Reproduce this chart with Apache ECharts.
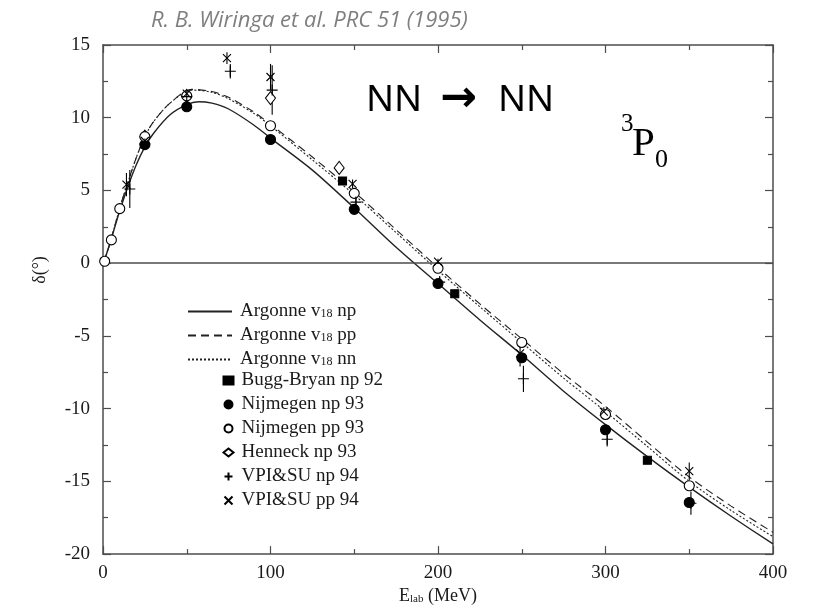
<!DOCTYPE html>
<html>
<head>
<meta charset="utf-8">
<script src="https://cdn.jsdelivr.net/npm/echarts@6/dist/echarts.min.js"></script>
<style>
  html, body { margin: 0; padding: 0; background: #fff; }
  #chart { width: 813px; height: 610px; }
</style>
</head>
<body>
<div id="chart"></div>
<script>
// Argonne v18 curves [E_lab, delta]
var argNp = [[0,0],[2,0.6],[5,1.7],[10,3.6],[15,5.3],[20,6.8],[25,8.0],[30,8.9],[40,10.2],[50,10.9],[57,11.1],[65,11.0],[75,10.6],[90,9.5],[100,8.6],[125,6.4],[150,3.8],[175,1.1],[200,-1.4],[225,-3.9],[250,-6.3],[275,-8.8],[300,-11.1],[325,-13.3],[350,-15.4],[375,-17.4],[400,-19.3]];
var argPp = [[0,0],[2,0.6],[5,1.7],[10,3.8],[15,5.6],[20,7.3],[25,8.7],[30,9.7],[40,11.0],[53,11.95],[65,11.8],[75,11.4],[90,10.4],[100,9.55],[125,7.3],[150,4.9],[175,2.3],[200,-0.3],[225,-2.8],[250,-5.2],[275,-7.6],[300,-9.85],[325,-12.3],[350,-14.7],[375,-16.7],[400,-18.5]];
var argNn = [[0,0],[2,0.6],[5,1.7],[10,3.8],[15,5.6],[20,7.3],[25,8.7],[30,9.7],[40,11.0],[53,11.9],[65,11.75],[75,11.3],[90,10.3],[100,9.45],[125,7.1],[150,4.7],[175,2.1],[200,-0.5],[225,-3.0],[250,-5.45],[275,-7.9],[300,-10.2],[325,-12.6],[350,-15.0],[375,-17.0],[400,-18.8]];

// phase shift analyses
var buggNp = [[143,5.65],[210,-2.1],[325,-13.55]];
var nijNp = [[25,8.15],[50,10.75],[100,8.5],[150,3.7],[200,-1.4],[250,-6.5],[300,-11.45],[350,-16.45]];
var nijPp = [[1,0.13],[5,1.6],[10,3.75],[25,8.7],[50,11.5],[100,9.45],[150,4.8],[200,-0.35],[250,-5.45],[300,-10.4],[350,-15.3]];
var henneckNp = [[25,8.7],[50,11.5],[100,11.35],[141,6.55]];
var vpiNp = [[16,5.1],[25,8.2],[50,11.45],[76,13.2],[101,11.9],[151,4.2],[201,-1.3],[251,-7.95],[301,-12.1],[351,-16.5]];
var vpiNpErr = [1.3,0.4,0.3,0.5,1.7,0.5,0.4,0.9,0.5,0.8];
var vpiPp = [[14,5.4],[25,8.4],[50,11.65],[74,14.1],[100,12.8],[149,5.45],[200,0.1],[249,-6.2],[299,-10.2],[350,-14.3]];
var vpiPpErr = [0.8,0.2,0.2,0.4,0.9,0.3,0.2,0.9,0.3,0.6];

var xTicks = [0, 400, 100];
var yTicks = [-20, 15, 5];

var serif = '"Liberation Serif", "DejaVu Serif", serif';
var ink = '#1a1a1a';
var axisCol = '#4d4d4d';

function errData(pts, errs) {
    return pts.map(function (p, i) { return [p[0], p[1] - errs[i], p[1] + errs[i]]; });
}
var errBars = errData(vpiNp, vpiNpErr).concat(errData(vpiPp, vpiPpErr));

var plusPath = 'path://M5,0L5,10M0,5L10,5';
var crossPath = 'path://M0,0L10,10M10,0L0,10';

var chart = echarts.init(document.getElementById('chart'));

function axisX(pos, labels) {
    return {
        type: 'value', position: pos, min: xTicks[0], max: xTicks[1], interval: xTicks[2],
        axisLine: { onZero: false, lineStyle: { color: axisCol, width: 1.5 } },
        axisTick: { inside: true, length: 8, lineStyle: { color: axisCol, width: 1.2 } },
        minorTick: { show: true, splitNumber: 2, length: 5, lineStyle: { color: axisCol, width: 1.2 } },
        splitLine: { show: false },
        axisLabel: { show: labels, margin: 9, fontFamily: serif, fontSize: 19, color: ink },
        name: labels ? 'E{s|lab} (MeV)' : '',
        nameLocation: 'middle', nameGap: 31,
        nameTextStyle: { fontFamily: serif, fontSize: 18, color: ink, lineHeight: 18,
            rich: { s: { fontFamily: serif, fontSize: 11, color: ink, lineHeight: 8, verticalAlign: 'bottom' } } }
    };
}
function axisY(pos, labels) {
    return {
        type: 'value', position: pos, min: yTicks[0], max: yTicks[1], interval: yTicks[2],
        axisLine: { onZero: false, lineStyle: { color: axisCol, width: 1.5 } },
        axisTick: { inside: true, length: 8, lineStyle: { color: axisCol, width: 1.2 } },
        minorTick: { show: true, splitNumber: 2, length: 5, lineStyle: { color: axisCol, width: 1.2 } },
        splitLine: { show: false },
        axisLabel: { show: labels, margin: 13, fontFamily: serif, fontSize: 19, color: ink }
    };
}

function lineSeries(name, data, type, width) {
    return {
        name: name, type: 'line', data: data, smooth: 0.3, symbol: 'none',
        lineStyle: { color: '#222', width: width, type: type },
        itemStyle: { color: '#222' }, z: 3
    };
}
function markSeries(name, data, symbol, size, fill, z) {
    return {
        name: name, type: 'scatter', data: data, symbol: symbol, symbolSize: size,
        itemStyle: { color: fill, borderColor: '#000', borderWidth: 1.1, opacity: 1 }, z: z
    };
}

var sub = { s: { fontFamily: serif, fontSize: 12, color: ink, lineHeight: 7, verticalAlign: 'bottom' } };
var legendText = { fontFamily: serif, fontSize: 19, color: ink, lineHeight: 17, padding: [0, 0, 0, 3], rich: sub };

var option = {
    animation: false,
    backgroundColor: '#fff',
    grid: { left: 103, right: 40, top: 45, bottom: 53 },
    xAxis: [axisX('bottom', true), axisX('top', false)],
    yAxis: [axisY('left', true), axisY('right', false)],
    legend: [{
        orient: 'vertical', left: 187, top: 302, padding: 0, itemWidth: 44, itemHeight: 14, itemGap: 5,
        itemStyle: { color: 'transparent', borderColor: 'transparent', borderWidth: 0, opacity: 0 },
        data: ['Argonne v18 np', 'Argonne v18 pp', 'Argonne v18 nn'],
        formatter: function (n) { return n.replace('v18', 'v{s|18}'); },
        textStyle: legendText
    }, {
        orient: 'vertical', left: 222, top: 371, padding: 0, itemWidth: 10, itemHeight: 8, itemGap: 5,
        data: ['Bugg-Bryan np 92', 'Nijmegen np 93', 'Nijmegen pp 93', 'Henneck np 93', 'VPI&SU np 94', 'VPI&SU pp 94'],
        textStyle: legendText
    }],
    graphic: [
        { type: 'text', x: 151, y: 21, style: { text: 'R. B. Wiringa et al. PRC 51 (1995)', font: 'italic 22px "Open Sans", "Noto Sans", sans-serif', fill: '#7f7f7f', verticalAlign: 'middle' } },
        { type: 'text', x: 366, y: 100, style: { text: 'NN', font: '37px "Noto Sans", "Open Sans", sans-serif', fill: '#000', verticalAlign: 'middle' } },
        { type: 'text', x: 440, y: 100, style: { text: '\u2192', font: 'bold 44px "DejaVu Sans", sans-serif', fill: '#000', verticalAlign: 'middle' } },
        { type: 'text', x: 498, y: 100, style: { text: 'NN', font: '37px "Noto Sans", "Open Sans", sans-serif', fill: '#000', verticalAlign: 'middle' } },
        { type: 'text', x: 621, y: 124, style: { text: '3', font: '25px ' + serif, fill: '#000', verticalAlign: 'middle' } },
        { type: 'text', x: 632, y: 144, style: { text: 'P', font: '41px ' + serif, fill: '#000', verticalAlign: 'middle' } },
        { type: 'text', x: 655, y: 160, style: { text: '0', font: '26px ' + serif, fill: '#000', verticalAlign: 'middle' } },
        { type: 'text', x: 40, y: 270, rotation: Math.PI / 2, style: { text: '\u03b4(\u00b0)', font: '18px ' + serif, fill: ink, align: 'center', verticalAlign: 'middle' } }
    ],
    series: [
        {
            name: 'Argonne v18 np', type: 'line', data: argNp, smooth: 0.3, symbol: 'none',
            lineStyle: { color: '#222', width: 1.4 }, itemStyle: { color: '#222' }, z: 3,
            markLine: {
                silent: true, symbol: 'none', label: { show: false },
                lineStyle: { color: axisCol, width: 1.5, type: 'solid' },
                data: [{ yAxis: 0 }]
            }
        },
        lineSeries('Argonne v18 pp', argPp, [8, 5], 1.1),
        lineSeries('Argonne v18 nn', argNn, [2, 2], 1.1),
        {
            name: 'err', type: 'custom', data: errBars, z: 4,
            renderItem: function (params, api) {
                var a = api.coord([api.value(0), api.value(1)]);
                var b = api.coord([api.value(0), api.value(2)]);
                return { type: 'line', shape: { x1: a[0], y1: a[1], x2: b[0], y2: b[1] }, style: { stroke: '#000', lineWidth: 1.1 } };
            }
        },
        markSeries('Bugg-Bryan np 92', buggNp, 'rect', 8, '#000', 6),
        markSeries('Nijmegen np 93', nijNp, 'circle', 10, '#000', 6),
        markSeries('Nijmegen pp 93', nijPp, 'circle', 10, '#fff', 7),
        markSeries('Henneck np 93', henneckNp, 'diamond', [10, 13], '#fff', 5),
        markSeries('VPI&SU np 94', vpiNp, plusPath, 11, 'none', 8),
        markSeries('VPI&SU pp 94', vpiPp, crossPath, 8, 'none', 8)
    ]
};
chart.setOption(option);
</script>
</body>
</html>
